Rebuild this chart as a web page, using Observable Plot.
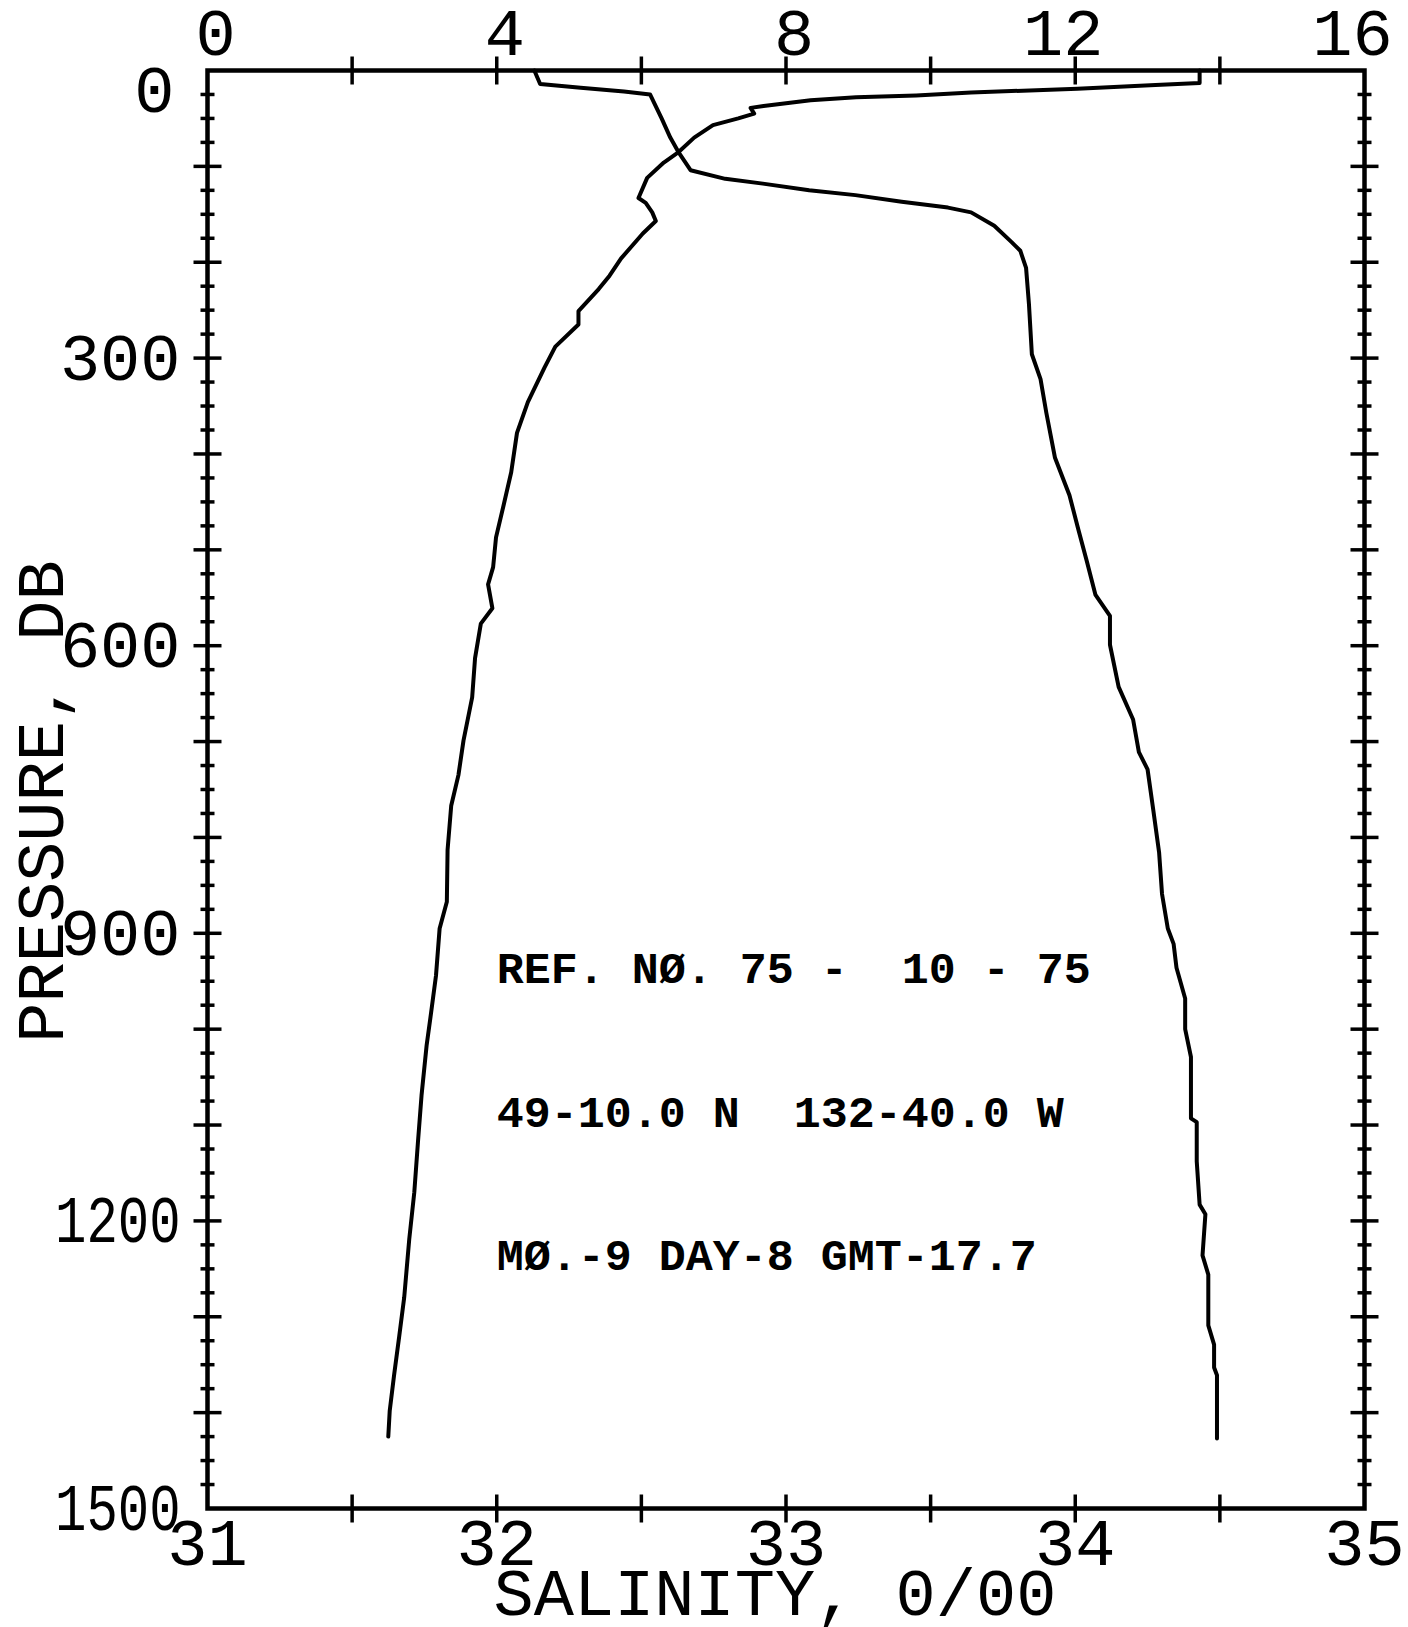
<!DOCTYPE html>
<html>
<head>
<meta charset="utf-8">
<script src="https://cdn.jsdelivr.net/npm/d3@7"></script>
<script src="https://cdn.jsdelivr.net/npm/@observablehq/plot@0.6"></script>
<style>
  html, body { margin: 0; padding: 0; background: #fff; }
  #chart svg { display: block; }
  #chart svg text { white-space: pre; }
</style>
</head>
<body>
<div id="chart"></div>
<script>
// ---- Data (CTD cast) ----
const salPressure = [0, 14, 18, 22, 25, 50, 70, 86, 104, 113,
  118, 125, 130, 137, 143, 148, 162, 179, 188, 206,
  244, 296, 322, 357, 404, 443, 478, 512, 547, 569,
  599, 643, 677, 711, 729, 772, 816, 859, 895, 911,
  936, 968, 1000, 1029, 1093, 1097, 1138, 1183, 1193, 1236,
  1256, 1288, 1309, 1329, 1353, 1361, 1402, 1427];
const salValues = [32.13, 32.15, 32.29, 32.44, 32.53, 32.57, 32.60, 32.63, 32.67, 32.79,
  32.92, 33.08, 33.24, 33.40, 33.56, 33.64, 33.72, 33.78, 33.81, 33.83,
  33.84, 33.85, 33.88, 33.90, 33.93, 33.98, 34.01, 34.04, 34.07, 34.12,
  34.12, 34.15, 34.20, 34.22, 34.25, 34.27, 34.29, 34.30, 34.32, 34.34,
  34.35, 34.38, 34.38, 34.40, 34.40, 34.42, 34.42, 34.43, 34.45, 34.44,
  34.46, 34.46, 34.46, 34.48, 34.48, 34.49, 34.49, 34.49];

const tempPressure = [0, 13, 15, 19, 23, 26, 28, 31, 37, 39,
  45, 50, 57, 70, 86, 96, 112, 133, 138, 148,
  157, 170, 196, 214, 228, 251, 265, 288, 310, 346,
  378, 419, 455, 487, 518, 536, 561, 577, 613, 654,
  699, 735, 767, 813, 867, 895, 944, 984, 1017, 1069,
  1118, 1170, 1219, 1280, 1321, 1361, 1398, 1425];
const tempValues = [13.72, 13.72, 13.11, 12.03, 10.56, 9.80, 8.97, 8.34, 7.69, 7.51,
  7.56, 7.34, 6.99, 6.73, 6.50, 6.31, 6.08, 5.96, 6.06, 6.15,
  6.20, 6.02, 5.72, 5.56, 5.41, 5.13, 5.13, 4.81, 4.66, 4.43,
  4.28, 4.20, 4.09, 3.99, 3.95, 3.88, 3.94, 3.78, 3.70, 3.66,
  3.54, 3.47, 3.37, 3.32, 3.31, 3.21, 3.16, 3.09, 3.03, 2.96,
  2.91, 2.86, 2.79, 2.72, 2.65, 2.58, 2.52, 2.50];

// Tick labels
const salinityTicks = [31, 32, 33, 34, 35];
const temperatureTicks = [0, 4, 8, 12, 16];
const pressureTicks = [300, 600, 900, 1200, 1500];
const pressureTopTick = [0];

// Annotation block
const annotationLines = ["REF. NØ. 75 -  10 - 75", "49-10.0 N  132-40.0 W", "MØ.-9 DAY-8 GMT-17.7"];
const annotationPressure = [937, 1087, 1236];
const annotationSalinity = [32.0, 32.0, 32.0];

const xLabel = "SALINITY, 0/00";
const yLabel = "PRESSURE, DB";

// ---- Build tables ----
const salinity = salPressure.map((p, i) => ({p, s: salValues[i]}));
const temperature = tempPressure.map((p, i) => ({p, t: tempValues[i]}));
const annotations = annotationLines.map((text, i) => ({text, p: annotationPressure[i], s: annotationSalinity[i]}));

// temperature axis (0–16) shares the horizontal scale with salinity (31–35)
const tempToX = t => 31 + t / 4;
const xToTemp = x => Math.round((x - 31) * 4);

// minor/major tick positions
const xTickPositions = d3.range(31.5, 35, 0.5);
const pMajor = d3.range(100, 1500, 100);
const pMinor = d3.range(25, 1500, 25).filter(d => d % 100 !== 0);

const vTick = {draw(ctx, size) { const r = Math.sqrt(size / Math.PI); ctx.moveTo(0, -r); ctx.lineTo(0, r); }};
const hTick = {draw(ctx, size) { const r = Math.sqrt(size / Math.PI); ctx.moveTo(-r, 0); ctx.lineTo(r, 0); }};
const tickStyle = {stroke: "black", fill: "none", strokeWidth: 3.5};

const chart = Plot.plot({
  width: 1408,
  height: 1627,
  marginLeft: 207,
  marginRight: 44,
  marginTop: 70,
  marginBottom: 119,
  x: {domain: [31, 35]},
  y: {domain: [0, 1500], reverse: true},
  style: {
    fontFamily: "'Liberation Mono', 'DejaVu Sans Mono', monospace",
    fontSize: "67px",
    color: "black",
    background: "white"
  },
  marks: [
    Plot.frame({stroke: "black", strokeWidth: 4.5}),
    // crossing ticks on all four sides
    Plot.dot(xTickPositions, {x: d => d, frameAnchor: "bottom", symbol: vTick, r: 14, ...tickStyle}),
    Plot.dot(xTickPositions, {x: d => d, frameAnchor: "top", symbol: vTick, r: 14, ...tickStyle}),
    Plot.dot(pMajor, {y: d => d, frameAnchor: "left", symbol: hTick, r: 14, ...tickStyle}),
    Plot.dot(pMinor, {y: d => d, frameAnchor: "left", symbol: hTick, r: 7, ...tickStyle}),
    Plot.dot(pMajor, {y: d => d, frameAnchor: "right", symbol: hTick, r: 14, ...tickStyle}),
    Plot.dot(pMinor, {y: d => d, frameAnchor: "right", symbol: hTick, r: 7, ...tickStyle}),
    // tick labels
    Plot.axisX({anchor: "bottom", ticks: salinityTicks, tickFormat: d => String(d), tickSize: 0, tickPadding: 9, label: null}),
    Plot.axisX({anchor: "top", ticks: temperatureTicks.map(tempToX), tickFormat: x => String(xToTemp(x)).padStart(2, "\u00a0"), tickSize: 0, tickPadding: 16, dx: -12, label: null}),
    Plot.axisY({anchor: "left", ticks: pressureTicks, tickFormat: d => String(d), tickSize: 0, tickPadding: 27, label: null}),
    Plot.axisY({anchor: "left", ticks: pressureTopTick, tickFormat: d => String(d), tickSize: 0, tickPadding: 33, dy: 20, label: null}),
    // axis titles
    Plot.text([xLabel], {text: d => d, frameAnchor: "bottom", textAnchor: "middle", lineAnchor: "bottom", dy: 106, dx: -11}),
    Plot.text([yLabel], {text: d => d, frameAnchor: "left", textAnchor: "middle", rotate: -90, lineAnchor: "bottom", dx: -145, dy: 12}),
    // profiles
    Plot.line(salinity, {x: "s", y: "p", stroke: "black", strokeWidth: 4, strokeLinejoin: "round"}),
    Plot.line(temperature, {x: d => tempToX(d.t), y: "p", stroke: "black", strokeWidth: 4, strokeLinejoin: "round"}),
    // annotation
    Plot.text(annotations, {x: "s", y: "p", text: "text", textAnchor: "start", lineAnchor: "middle", fontSize: 45, fontWeight: "bold"})
  ]
});

// four-digit pressure labels are drawn narrower in the reference
d3.select(chart).selectAll("text")
  .filter(function() { return /^\d{4}$/.test(this.textContent.trim()); })
  .each(function() {
    const t = this.getAttribute("transform") || "";
    this.setAttribute("transform", t + " scale(0.78,1)");
  });

document.getElementById("chart").appendChild(chart);
</script>
</body>
</html>
